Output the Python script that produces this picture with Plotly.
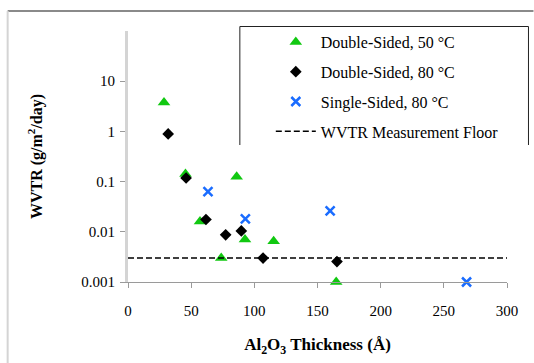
import plotly.graph_objects as go

# Data
ds50_x = [28.5, 45.5, 86, 57, 92.6, 115.3, 73.8, 164.8]
ds50_y = [3.75, 0.142, 0.125, 0.016, 0.0070, 0.0065, 0.0030, 0.001]
ds80_x = [31.8, 46, 61.7, 77.3, 89.7, 106.9, 165.4]
ds80_y = [0.89, 0.118, 0.0176, 0.0087, 0.0104, 0.0030, 0.00255]
ss80_x = [63.3, 92.9, 160, 268]
ss80_y = [0.063, 0.018, 0.026, 0.001]
floor_x = [0, 300]
floor_y = [0.003, 0.003]
y_tickvals = [0.001, 0.01, 0.1, 1, 10]
y_ticktext = ["0.001", "0.01", "0.1", "1", "10"]
x_tickvals = [0, 50, 100, 150, 200, 250, 300]

FONT = "Liberation Serif"
W, H = 534, 363
L, R, T, B = 128, 26.5, 31, 81
pw, ph = W - L - R, H - T - B

def px2paper(px, py):
    return (px - L) / pw, (H - B - py) / ph

fig = go.Figure()
fig.add_trace(go.Scatter(x=ds50_x, y=ds50_y, mode="markers", name="Double-Sided, 50 °C",
                         legendgroup="a", cliponaxis=False,
                         marker=dict(symbol="triangle-up", size=11, color="#11c811")))
fig.add_trace(go.Scatter(x=ds80_x, y=ds80_y, mode="markers", name="Double-Sided, 80 °C",
                         legendgroup="b", cliponaxis=False,
                         marker=dict(symbol="diamond", size=9, color="#000000")))
fig.add_trace(go.Scatter(x=ss80_x, y=ss80_y, mode="markers", name="Single-Sided, 80 °C",
                         legendgroup="c", cliponaxis=False,
                         marker=dict(symbol="x-thin", size=9, color="#1a6cff",
                                     line=dict(width=2.5, color="#1a6cff"))))
fig.add_trace(go.Scatter(x=floor_x, y=floor_y, mode="lines", name="WVTR Measurement Floor",
                         legendgroup="d",
                         line=dict(color="black", width=1.5, dash="6px,3px")))

# legend box (three sides) and outer chart border
lx0, ly1 = px2paper(240, 26.5)
lx1, ly0 = px2paper(529, 145)
bx, by_top = px2paper(7.5, 11)
_, by_bot = px2paper(7.5, 363)
bx1, _ = px2paper(534, 11)
shapes = [
    dict(type="path", xref="paper", yref="paper",
         path=f"M {lx0},{ly0} L {lx0},{ly1} L {lx1},{ly1} L {lx1},{ly0}",
         line=dict(color="#222222", width=1)),
    dict(type="line", xref="paper", yref="paper", x0=bx, x1=bx1, y0=by_top, y1=by_top,
         line=dict(color="#8a8a8a", width=2)),
    dict(type="line", xref="paper", yref="paper", x0=bx, x1=bx, y0=by_top, y1=by_bot,
         line=dict(color="#d4d4d4", width=2)),
]

lgx, lgy = px2paper(271, 25)
fig.update_layout(
    width=W, height=H,
    margin=dict(l=L, r=R, t=T, b=B),
    paper_bgcolor="white", plot_bgcolor="white",
    font=dict(family=FONT, size=15, color="black"),
    shapes=shapes,
    showlegend=True,
    legend=dict(x=lgx, y=lgy, xanchor="left", yanchor="top",
                bgcolor="rgba(0,0,0,0)", borderwidth=0,
                font=dict(family=FONT, size=16, color="black"),
                tracegroupgap=6, itemwidth=40),
    xaxis=dict(range=[0, 300], tickvals=x_tickvals, showgrid=False, zeroline=False,
               showline=True, linecolor="#9a9a9a", linewidth=1,
               ticks="outside", ticklen=5, tickcolor="#9a9a9a",
               ticklabelstandoff=10,
               tickfont=dict(family=FONT, size=15),
               title=dict(text="<b>Al<sub>2</sub>O<sub>3</sub> Thickness (Å)</b>",
                          font=dict(family=FONT, size=17), standoff=20)),
    yaxis=dict(type="log", range=[-3, 2], tickvals=y_tickvals, ticktext=y_ticktext,
               showgrid=False, zeroline=False,
               showline=True, linecolor="#d4d4d4", linewidth=3,
               ticks="outside", ticklen=5, tickcolor="#9a9a9a",
               ticklabelstandoff=2,
               tickfont=dict(family=FONT, size=15),
               title=dict(text="<b>WVTR (g/m<sup>2</sup>/day)</b>",
                          font=dict(family=FONT, size=16), standoff=35)),
)

fig.write_html("out.html", config={"displayModeBar": False},
               post_script="document.body.style.margin='0';")
